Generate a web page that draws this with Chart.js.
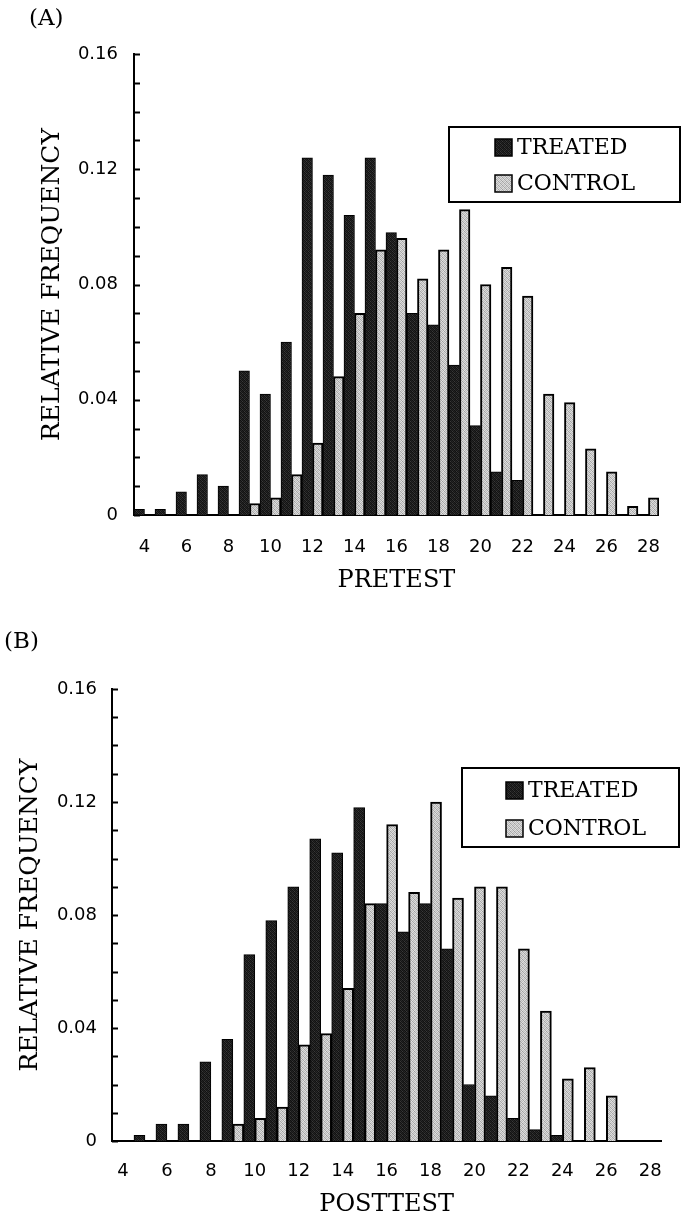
<!DOCTYPE html>
<html>
<head>
<meta charset="utf-8">
<script src="https://cdn.jsdelivr.net/npm/chart.js@4.4.1/dist/chart.umd.min.js"></script>
<style>
  html, body { margin: 0; padding: 0; background: #fff; }
  .panel { position: absolute; left: 0; width: 682px; }
  .panel canvas { display: block; }
  .tag { position: absolute; font-family: 'DejaVu Serif', serif; font-size: 23px; color: #000; }
</style>
</head>
<body>
<div class="panel" style="top:0;height:610px">
  <canvas id="chartPre" width="682" height="610"></canvas>
  <span class="tag" style="left:29px;top:4px">(A)</span>
</div>
<div class="panel" style="top:610px;height:611px">
  <canvas id="chartPost" width="682" height="611"></canvas>
  <span class="tag" style="left:4px;top:17px">(B)</span>
</div>
<script>
// test scores 4..28, relative frequency per score
const SCORES = ['4', '5', '6', '7', '8', '9', '10', '11', '12', '13', '14', '15', '16',
                '17', '18', '19', '20', '21', '22', '23', '24', '25', '26', '27', '28'];

const PRE_TREATED = [0.002, 0.002, 0.008, 0.014, 0.010, 0.050, 0.042, 0.060, 0.124, 0.118,
                     0.104, 0.124, 0.098, 0.070, 0.066, 0.052, 0.031, 0.015, 0.012, 0,
                     0, 0, 0, 0, 0];
const PRE_CONTROL = [0, 0, 0, 0, 0, 0.004, 0.006, 0.014, 0.025, 0.048,
                     0.070, 0.092, 0.096, 0.082, 0.092, 0.106, 0.080, 0.086, 0.076, 0.042,
                     0.039, 0.023, 0.015, 0.003, 0.006];

const POST_TREATED = [0, 0.002, 0.006, 0.006, 0.028, 0.036, 0.066, 0.078, 0.090, 0.107,
                      0.102, 0.118, 0.084, 0.074, 0.084, 0.068, 0.020, 0.016, 0.008, 0.004,
                      0.002, 0, 0, 0, 0];
const POST_CONTROL = [0, 0, 0, 0, 0, 0.006, 0.008, 0.012, 0.034, 0.038,
                      0.054, 0.084, 0.112, 0.088, 0.120, 0.086, 0.090, 0.090, 0.068, 0.046,
                      0.022, 0.026, 0.016, 0, 0];

const Y_MAX = 0.16;
const Y_STEP = 0.01;

(function () {
  'use strict';

  const SERIF = "'DejaVu Serif', serif";
  const SANS  = "'DejaVu Sans', sans-serif";

  // halftone-ish fills, like a printed grey screen
  function screen(cells) {
    const c = document.createElement('canvas');
    c.width = 4; c.height = 4;
    const g = c.getContext('2d');
    const img = g.createImageData(4, 4);
    cells.forEach((v, i) => {
      img.data[i * 4] = v; img.data[i * 4 + 1] = v; img.data[i * 4 + 2] = v; img.data[i * 4 + 3] = 255;
    });
    g.putImageData(img, 0, 0);
    return g.createPattern(c, 'repeat');
  }
  const DARK  = screen([18, 48, 20, 34, 38, 16, 58, 22, 22, 42, 18, 40, 56, 20, 34, 16]);
  const LIGHT = screen([215, 168, 222, 195, 190, 226, 158, 212, 222, 184, 216, 170, 165, 212, 188, 226]);

  // minor ticks on the y axis point into the plot
  const innerTicks = {
    id: 'innerTicks',
    afterDraw(chart) {
      const s = chart.scales.y;
      const ctx = chart.ctx;
      ctx.save();
      ctx.strokeStyle = '#000';
      ctx.lineWidth = 2;
      s.ticks.forEach((t) => {
        const y = Math.round(s.getPixelForValue(t.value)) + 0.5;
        ctx.beginPath();
        ctx.moveTo(s.right, y);
        ctx.lineTo(s.right + 6, y);
        ctx.stroke();
      });
      ctx.restore();
    },
  };

  // boxed legend sitting in the upper right of the plot
  const boxLegend = {
    id: 'boxLegend',
    afterDraw(chart, args, o) {
      const ctx = chart.ctx;
      ctx.save();
      ctx.fillStyle = '#fff';
      ctx.fillRect(o.x, o.y, o.w, o.h);
      ctx.lineWidth = 2;
      ctx.strokeStyle = '#000';
      ctx.strokeRect(o.x, o.y, o.w, o.h);
      ctx.font = '22px ' + SERIF;
      ctx.textBaseline = 'middle';
      chart.data.datasets.forEach((ds, i) => {
        const cy = o.y + o.row0 + i * o.rowStep;
        ctx.fillStyle = ds.backgroundColor;
        ctx.fillRect(o.swatchX, cy - 8, 17, 17);
        ctx.lineWidth = 1.5;
        ctx.strokeRect(o.swatchX, cy - 8, 17, 17);
        ctx.fillStyle = '#000';
        ctx.fillText(ds.label, o.swatchX + 22, cy + 1);
      });
      ctx.restore();
    },
  };

  function histogram(id, treated, control, cfg) {
    const el = document.getElementById(id);
    return new Chart(el, {
      type: 'bar',
      data: {
        labels: SCORES,
        datasets: [
          { label: 'TREATED', data: treated, backgroundColor: DARK, borderColor: '#000', borderWidth: 1 },
          { label: 'CONTROL', data: control, backgroundColor: LIGHT, borderColor: '#000', borderWidth: 2 },
        ],
      },
      options: {
        responsive: false,
        animation: false,
        events: [],
        datasets: { bar: { categoryPercentage: 1, barPercentage: 1 } },
        layout: { padding: { top: cfg.top, right: cfg.right, left: 0, bottom: 0 } },
        plugins: {
          legend: { display: false },
          tooltip: { enabled: false },
          boxLegend: cfg.legend,
        },
        scales: {
          x: {
            grid: { display: false, drawTicks: false },
            border: { display: true, color: '#000', width: 2 },
            ticks: {
              autoSkip: false,
              maxRotation: 0,
              color: '#000',
              padding: cfg.xPad,
              font: { family: SANS, size: 18 },
              callback: (v, i) => (i % 2 === 0 ? SCORES[i] : ''),
            },
            title: {
              display: true,
              text: cfg.xTitle,
              color: '#000',
              font: { family: SERIF, size: 24 },
              padding: { top: 0, bottom: cfg.xTitlePad },
            },
            afterFit: (s) => { s.height = cfg.xHeight; },
          },
          y: {
            min: 0,
            max: Y_MAX,
            grid: { display: false, drawTicks: false },
            border: { display: true, color: '#000', width: 2 },
            ticks: {
              stepSize: Y_STEP,
              autoSkip: false,
              color: '#000',
              padding: cfg.yPad,
              font: { family: SANS, size: 18 },
              callback: (v) => {
                const n = Math.round(v * 100);
                if (n % 4 !== 0) return '';
                return n === 0 ? '0' : v.toFixed(2);
              },
            },
            title: {
              display: true,
              text: 'RELATIVE FREQUENCY',
              color: '#000',
              font: { family: SERIF, size: 25 },
              padding: { top: cfg.yTitlePad, bottom: 0 },
            },
            afterFit: (s) => { s.width = cfg.yWidth; },
          },
        },
      },
      plugins: [innerTicks, boxLegend],
    });
  }

  histogram('chartPre', PRE_TREATED, PRE_CONTROL, {
    top: 54, right: 5, xHeight: 95, yWidth: 134,
    xPad: 22, yPad: 16, xTitle: 'PRETEST', xTitlePad: 15, yTitlePad: 37,
    legend: { x: 449, y: 127, w: 231, h: 75, swatchX: 495, row0: 20, rowStep: 36 },
  });

  histogram('chartPost', POST_TREATED, POST_CONTROL, {
    top: 79, right: 15, xHeight: 80, yWidth: 112,
    xPad: 20, yPad: 15, xTitle: 'POSTTEST', xTitlePad: 2, yTitlePad: 15,
    legend: { x: 462, y: 158, w: 217, h: 79, swatchX: 506, row0: 22, rowStep: 38 },
  });
})();
</script>
</body>
</html>
